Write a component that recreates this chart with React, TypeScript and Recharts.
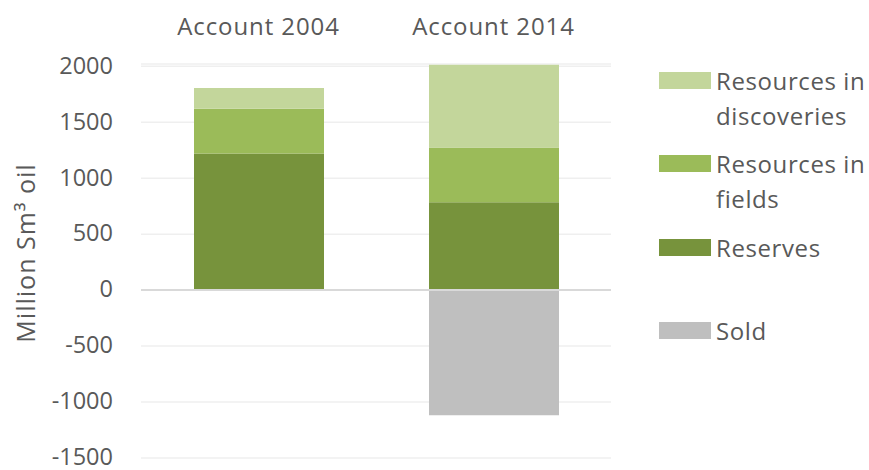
import React from 'react';
import { BarChart, Bar, XAxis, YAxis, CartesianGrid, ReferenceLine } from 'recharts';

const categories = ['Account 2004', 'Account 2014'];
const reserves = [1221, 784];
const resourcesInFields = [399, 491];
const resourcesInDiscoveries = [185, 738];
const sold = [0, -1118];
const yTicks = [-1500, -1000, -500, 0, 500, 1000, 1500, 2000];
const yAxisTitle = 'Million Sm³ oil';

const series = [
  { key: 'discoveries', name: 'Resources in discoveries', lines: ['Resources in', 'discoveries'], color: '#C3D69B' },
  { key: 'fields', name: 'Resources in fields', lines: ['Resources in', 'fields'], color: '#9BBB59' },
  { key: 'reserves', name: 'Reserves', lines: ['Reserves'], color: '#77933C' },
  { key: 'sold', name: 'Sold', lines: ['Sold'], color: '#BFBFBF' },
];

const data = categories.map((c, i) => ({
  category: c,
  reserves: reserves[i],
  fields: resourcesInFields[i],
  discoveries: resourcesInDiscoveries[i],
  sold: sold[i],
}));

const FONT = '"Open Sans", sans-serif';
const TEXT = '#595959';

const LegendBox = () => (
  <div style={{ position: 'absolute', left: 659, top: 62.5, width: 210, fontFamily: FONT, fontSize: 24, color: TEXT, letterSpacing: 0.6 }}>
    {series.map((s) => (
      <div key={s.key} style={{ position: 'relative', height: 83.5 }}>
        <div style={{ position: 'absolute', left: 0, top: 9, width: 52, height: 17, background: s.color }} />
        <div style={{ position: 'absolute', left: 57, top: 0, lineHeight: '35px', whiteSpace: 'nowrap' }}>
          {s.lines.map((l, j) => (
            <div key={j}>{l}</div>
          ))}
        </div>
      </div>
    ))}
  </div>
);

const YTitle = () => (
  <svg width={60} height={470} style={{ position: 'absolute', left: 0, top: 0 }}>
    <text
      x={25}
      y={253}
      transform="rotate(-90 25 253)"
      textAnchor="middle"
      dominantBaseline="central"
      fill={TEXT}
      fontFamily={FONT}
      fontSize={25}
      letterSpacing={1}
    >
      {yAxisTitle}
    </text>
  </svg>
);

export default function App() {
  return (
    <div style={{ position: 'absolute', left: 0, top: 0, width: 869, height: 470, background: '#fff' }}>
      <BarChart
        width={869}
        height={470}
        data={data}
        stackOffset="sign"
        margin={{ top: 0, right: 258, bottom: 12, left: 0 }}
      >
        <CartesianGrid vertical={false} stroke="#EFEFEF" strokeWidth={1.5} />
        <XAxis
          dataKey="category"
          orientation="top"
          height={64}
          interval={0}
          axisLine={false}
          tickLine={false}
          tickSize={0}
          tickMargin={29}
          tick={{ fill: TEXT, fontFamily: FONT, fontSize: 24, letterSpacing: 0.9 }}
        />
        <YAxis
          width={141}
          domain={[-1500, 2020]}
          ticks={yTicks}
          interval={0}
          axisLine={false}
          tickLine={false}
          tickSize={0}
          tickMargin={28}
          tick={{ fill: TEXT, fontFamily: FONT, fontSize: 23.5, dy: -1 }}
        />
        <ReferenceLine y={0} stroke="#D9D9D9" strokeWidth={2} />
        <Bar dataKey="reserves" name="Reserves" stackId="a" fill="#77933C" barSize={130} isAnimationActive={false} />
        <Bar dataKey="fields" name="Resources in fields" stackId="a" fill="#9BBB59" barSize={130} isAnimationActive={false} />
        <Bar dataKey="discoveries" name="Resources in discoveries" stackId="a" fill="#C3D69B" barSize={130} isAnimationActive={false} />
        <Bar dataKey="sold" name="Sold" stackId="a" fill="#BFBFBF" barSize={130} isAnimationActive={false} />
      </BarChart>
      <YTitle />
      <LegendBox />
    </div>
  );
}
